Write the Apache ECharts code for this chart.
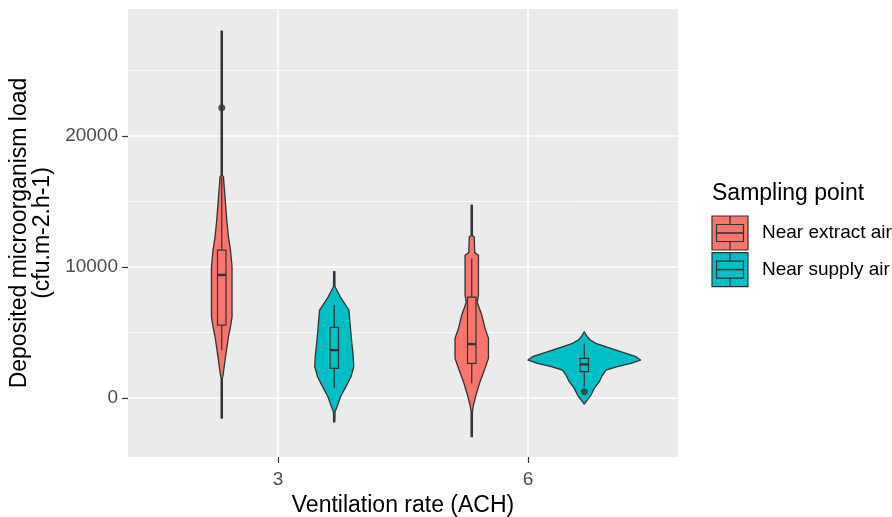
<!DOCTYPE html>
<html>
<head>
<meta charset="utf-8">
<style>
  html, body { margin: 0; padding: 0; background: #fff; }
  #chart { width: 892px; height: 517px; }
</style>
<script src="https://cdn.jsdelivr.net/npm/echarts@6/dist/echarts.min.js"></script>
</head>
<body>
<div id="chart"></div>
<script>
const rates = ['3', '6']
const groups = ['Near extract air', 'Near supply air']
const groupColors = ['#F8766D', '#00BFC4']

// violin outlines: y levels and relative density (1 = widest violin)
const extract3Y = [-1530, 1500, 1630, 2140, 2900, 3660, 4680, 5440, 6200, 10020, 11300, 12310, 13590, 14600, 15880, 16900, 17000, 28000]
const extract3D = [0.011, 0.011, 0.018, 0.036, 0.059, 0.084, 0.119, 0.155, 0.183, 0.183, 0.155, 0.119, 0.089, 0.071, 0.048, 0.030, 0.011, 0.011]
const supply3Y = [-1810, -1040, -660, 100, 870, 1630, 2390, 3160, 4680, 5950, 6720, 6970, 7730, 8500, 9640]
const supply3D = [0.011, 0.014, 0.050, 0.112, 0.208, 0.297, 0.347, 0.338, 0.302, 0.276, 0.261, 0.222, 0.107, 0.014, 0.011]
const extract6Y = [-2950, -1040, -530, 230, 1250, 2270, 3030, 4560, 5320, 6340, 7300, 7860, 10900, 11100, 12310, 12400, 14730]
const extract6D = [0.011, 0.011, 0.030, 0.076, 0.148, 0.236, 0.297, 0.297, 0.236, 0.178, 0.098, 0.119, 0.119, 0.053, 0.044, 0.011, 0.011]
const supply6Y = [-458, -153, 229, 738, 1247, 1756, 2137, 2392, 2646, 2901, 3155, 3664, 4173, 4427, 4682, 5063]
const supply6D = [0, 0.053, 0.119, 0.178, 0.267, 0.325, 0.386, 0.587, 0.830, 1.0, 0.919, 0.564, 0.208, 0.107, 0.053, 0]

// box stats: [lower whisker, Q1, median, Q3, upper whisker]
const extract3Box = [3660, 5570, 9400, 11300, 16900]
const supply3Box = [740, 2260, 3660, 5390, 7100]
const extract6Box = [1120, 2650, 4120, 7700, 10660]
const supply6Box = [865, 2010, 2570, 3028, 4170]

// outliers: [rate index, group index, value]
const outliers = [[0, 0, 22160], [1, 1, 480]]

const majorY = [0, 10000, 20000]
const minorY = [5000, 15000, 25000]

const violins = [
  { rate: 0, group: 0, y: extract3Y, d: extract3D, box: extract3Box },
  { rate: 0, group: 1, y: supply3Y, d: supply3D, box: supply3Box },
  { rate: 1, group: 0, y: extract6Y, d: extract6D, box: extract6Box },
  { rate: 1, group: 1, y: supply6Y, d: supply6D, box: supply6Box }
]

const DODGE = 0.225
const MAX_HALF = 0.225
const BOX_HALF = 0.017
const font = '"Liberation Sans", Arial, sans-serif'
const ink = '#333333'

const xPos = (rate, group) => rate + 1 + (group === 0 ? -DODGE : DODGE)

const chart = echarts.init(document.getElementById('chart'))

const renderGrid = (params, api) => {
  const cs = params.coordSys
  const vertical = api.value(0) === 1
  const major = api.value(2) === 1
  const p = api.coord(vertical ? [api.value(1), 0] : [1, api.value(1)])
  const shape = vertical
    ? { x1: p[0], y1: cs.y, x2: p[0], y2: cs.y + cs.height }
    : { x1: cs.x, y1: p[1], x2: cs.x + cs.width, y2: p[1] }
  return {
    type: 'line',
    shape,
    style: { stroke: '#fff', lineWidth: major ? 1.6 : 0.8 }
  }
}

const renderViolin = (params, api) => {
  const v = violins[api.value(0)]
  const cx = xPos(v.rate, v.group)
  const color = groupColors[v.group]
  const right = v.y.map((y, i) => api.coord([cx + v.d[i] * MAX_HALF, y]))
  const left = v.y.map((y, i) => api.coord([cx - v.d[i] * MAX_HALF, y])).reverse()
  const b = v.box
  const c = (x, y) => api.coord([x, y])
  const tl = c(cx - BOX_HALF, b[3])
  const br = c(cx + BOX_HALF, b[1])
  const lineStyle = { stroke: ink, lineWidth: 1.2 }
  return {
    type: 'group',
    children: [
      {
        type: 'polygon',
        shape: { points: right.concat(left) },
        style: { fill: color, stroke: ink, lineWidth: 1.3, lineJoin: 'round' }
      },
      { type: 'line', shape: { x1: c(cx, b[3])[0], y1: c(cx, b[3])[1], x2: c(cx, b[4])[0], y2: c(cx, b[4])[1] }, style: lineStyle },
      { type: 'line', shape: { x1: c(cx, b[0])[0], y1: c(cx, b[0])[1], x2: c(cx, b[1])[0], y2: c(cx, b[1])[1] }, style: lineStyle },
      {
        type: 'rect',
        shape: { x: tl[0], y: tl[1], width: br[0] - tl[0], height: br[1] - tl[1] },
        style: { fill: color, stroke: ink, lineWidth: 1.2 }
      },
      {
        type: 'line',
        shape: { x1: tl[0], y1: c(cx, b[2])[1], x2: br[0], y2: c(cx, b[2])[1] },
        style: { stroke: ink, lineWidth: 2.4 }
      }
    ]
  }
}

// legend drawn by hand so the keys look like ggplot's violin + boxplot keys
const legendX = 712
const legendY = 216
const keyW = 36
const keyH = 34
const keyStep = 36.6
const legendKeys = groups.map((name, i) => ({
  type: 'group',
  x: legendX,
  y: legendY + i * keyStep,
  children: [
    { type: 'rect', shape: { x: 0, y: 0, width: keyW, height: keyH }, style: { fill: groupColors[i], stroke: ink, lineWidth: 1.2 } },
    { type: 'line', shape: { x1: keyW / 2, y1: 0, x2: keyW / 2, y2: keyH * 0.25 }, style: { stroke: ink, lineWidth: 1.2 } },
    { type: 'line', shape: { x1: keyW / 2, y1: keyH * 0.75, x2: keyW / 2, y2: keyH }, style: { stroke: ink, lineWidth: 1.2 } },
    { type: 'rect', shape: { x: keyW * 0.125, y: keyH * 0.25, width: keyW * 0.75, height: keyH * 0.5 }, style: { fill: groupColors[i], stroke: ink, lineWidth: 1.2 } },
    { type: 'line', shape: { x1: keyW * 0.125, y1: keyH / 2, x2: keyW * 0.875, y2: keyH / 2 }, style: { stroke: ink, lineWidth: 1.6 } },
    {
      type: 'text',
      x: keyW + 14,
      y: keyH / 2,
      style: { text: name, font: '19px ' + font, fill: '#000', verticalAlign: 'middle' }
    }
  ]
}))

const gridData = []
majorY.forEach(v => gridData.push([0, v, 1]))
minorY.forEach(v => gridData.push([0, v, 0]))
rates.forEach((r, i) => gridData.push([1, i + 1, 1]))

const option = {
  animation: false,
  grid: {
    left: 128,
    right: 214,
    top: 9,
    bottom: 60,
    outerBoundsMode: 'none',
    containLabel: false,
    show: true,
    backgroundColor: '#EBEBEB',
    borderWidth: 0
  },
  xAxis: {
    type: 'value',
    min: 0.4,
    max: 2.6,
    axisLine: { show: false, onZero: false },
    splitLine: { show: false },
    axisTick: { show: true, length: 6, customValues: [1, 2], lineStyle: { color: ink, width: 1.2 } },
    axisLabel: {
      customValues: [1, 2],
      formatter: (v) => rates[Math.round(v) - 1],
      margin: 13,
      color: '#4D4D4D',
      fontSize: 19,
      fontFamily: font
    },
    name: 'Ventilation rate (ACH)',
    nameLocation: 'middle',
    nameGap: 36,
    nameTextStyle: { fontSize: 23, color: '#000', fontFamily: font }
  },
  yAxis: {
    type: 'value',
    min: -4500,
    max: 29700,
    axisLine: { show: false, onZero: false },
    splitLine: { show: false },
    axisTick: { show: true, length: 6, customValues: majorY, lineStyle: { color: ink, width: 1.2 } },
    axisLabel: {
      customValues: majorY,
      formatter: (v) => String(v),
      margin: 10,
      color: '#4D4D4D',
      fontSize: 19,
      fontFamily: font
    },
    name: 'Deposited microorganism load\n(cfu.m-2.h-1)',
    nameLocation: 'middle',
    nameRotate: 90,
    nameGap: 67,
    nameTextStyle: { fontSize: 23, lineHeight: 23, color: '#000', fontFamily: font, align: 'center' }
  },
  graphic: {
    elements: [
      {
        type: 'text',
        x: legendX,
        y: 194,
        style: { text: 'Sampling point', font: '23px ' + font, fill: '#000', verticalAlign: 'middle' }
      }
    ].concat(legendKeys)
  },
  series: [
    {
      type: 'custom',
      name: 'grid',
      z: 1,
      silent: true,
      renderItem: renderGrid,
      data: gridData
    },
    {
      type: 'custom',
      name: 'violins',
      z: 2,
      renderItem: renderViolin,
      data: violins.map((v, i) => [i])
    },
    {
      type: 'scatter',
      name: 'outliers',
      z: 3,
      symbolSize: 7,
      itemStyle: { color: ink },
      data: outliers.map(o => [xPos(o[0], o[1]), o[2]])
    }
  ]
}

chart.setOption(option)
</script>
</body>
</html>
